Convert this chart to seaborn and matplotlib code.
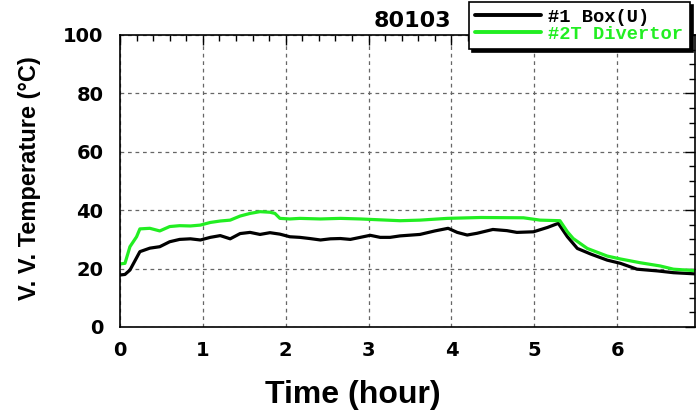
import matplotlib
matplotlib.use("Agg")
import matplotlib.pyplot as plt
import seaborn as sns
import pandas as pd
from matplotlib.ticker import MultipleLocator
from matplotlib.lines import Line2D

# ---- data ----
t_box = [0, 0.06, 0.12, 0.24, 0.36, 0.48, 0.6, 0.72, 0.85, 0.97, 1.09, 1.21, 1.33,
         1.45, 1.57, 1.69, 1.81, 1.93, 2.05, 2.17, 2.29, 2.42, 2.54, 2.66, 2.78,
         2.9, 3.02, 3.14, 3.26, 3.38, 3.62, 3.8, 3.96, 4.07, 4.19, 4.31, 4.5, 4.67,
         4.79, 4.99, 5.16, 5.29, 5.4, 5.52, 5.68, 5.88, 6.04, 6.24, 6.49, 6.68, 6.94]
box = [17.8, 18.0, 19.5, 25.8, 27.0, 27.5, 29.2, 30.0, 30.2, 29.8, 30.7, 31.3, 30.2,
       32.0, 32.4, 31.7, 32.3, 31.8, 30.9, 30.7, 30.3, 29.8, 30.2, 30.3, 30.0,
       30.7, 31.4, 30.7, 30.7, 31.2, 31.7, 32.9, 33.8, 32.4, 31.5, 32.1, 33.4, 33.0,
       32.4, 32.6, 34.1, 35.5, 30.9, 26.9, 25.0, 22.9, 21.8, 19.8, 19.2, 18.6, 18.2]
t_div = [0, 0.06, 0.12, 0.2, 0.24, 0.36, 0.48, 0.6, 0.72, 0.85, 0.97, 1.09, 1.21,
         1.33, 1.45, 1.57, 1.69, 1.81, 1.87, 1.93, 2.05, 2.17, 2.42, 2.66, 2.9, 3.14,
         3.38, 3.62, 3.95, 4.35, 4.87, 5.07, 5.31, 5.4, 5.47, 5.64, 5.88, 6.04, 6.28,
         6.52, 6.68, 6.94]
div = [21.6, 21.8, 27.5, 30.9, 33.6, 33.8, 32.9, 34.4, 34.7, 34.6, 34.9, 35.8, 36.3,
       36.6, 38.0, 38.9, 39.5, 39.3, 38.9, 37.2, 37.0, 37.2, 37.0, 37.2, 37.0, 36.7,
       36.4, 36.6, 37.2, 37.5, 37.4, 36.6, 36.4, 32.6, 30.3, 26.9, 24.3, 23.3, 22.0,
       20.9, 19.8, 19.3]
series_names = ["#1 Box(U)", "#2T Divertor"]
series_colors = ["#000000", "#22ee22"]
title_text = "80103"

df = pd.concat([
    pd.DataFrame({"Time": t_box, "Temp": box, "Series": series_names[0]}),
    pd.DataFrame({"Time": t_div, "Temp": div, "Series": series_names[1]}),
])

sns.set_style("white")
plt.rcParams["font.family"] = ["Liberation Sans", "DejaVu Sans"]
plt.rcParams["text.color"] = "black"
plt.rcParams["axes.labelcolor"] = "black"

fig = plt.figure(figsize=(6.96, 4.16), dpi=100)
ax = fig.add_axes([120 / 696, 1 - 327 / 416, 575 / 696, 292 / 416])

sns.lineplot(data=df, x="Time", y="Temp", hue="Series",
             palette=dict(zip(series_names, series_colors)),
             estimator=None, sort=False, linewidth=2.3, ax=ax, legend=False)

ax.set_xlim(0, 6.94)
ax.set_ylim(0, 100)
ax.xaxis.set_major_locator(MultipleLocator(1))
ax.xaxis.set_minor_locator(MultipleLocator(0.2))
ax.yaxis.set_major_locator(MultipleLocator(20))
ax.yaxis.set_minor_locator(MultipleLocator(5))
ax.tick_params(which="both", direction="in", top=True, right=True, colors="black",
               labelsize=14, width=1)
ax.tick_params(which="major", length=7)
ax.tick_params(axis="y", which="major", pad=12)
ax.tick_params(axis="x", which="major", pad=10)
ax.tick_params(which="minor", length=4)
for lab in ax.get_xticklabels() + ax.get_yticklabels():
    lab.set_fontweight("bold")
    lab.set_family(["DejaVu Sans"])
ax.grid(True, which="major", linestyle=(0, (3, 3)), color="#666666", linewidth=0.9)
for s in ax.spines.values():
    s.set_visible(True)
    s.set_color("black")
    s.set_linewidth(1.2)

ax.set_xlabel("Time (hour)", fontsize=23, fontweight="bold")
ax.xaxis.set_label_coords((353 - 120) / 575, -0.18)
ax.set_ylabel("V. V. Temperature (°C)", fontsize=17, fontweight="bold")
ax.yaxis.set_label_coords(-0.137, 0.51)

fig.text(451 / 696, 1 - 27 / 416, title_text, ha="right", va="baseline",
         fontsize=16, fontweight="bold", family=["DejaVu Sans"])

handles = [Line2D([], [], color=c, linewidth=2.8) for c in series_colors]
leg = fig.legend(handles, series_names, loc="upper right",
                 bbox_to_anchor=(690 / 696, 1 - 2 / 416), borderaxespad=0,
                 frameon=True, fancybox=False, shadow={"color": "black", "alpha": 1},
                 framealpha=1, edgecolor="black", handlelength=3.5, handletextpad=0.4,
                 labelspacing=0.0, borderpad=0.35,
                 prop={"family": ["Liberation Mono", "DejaVu Sans Mono"], "weight": "bold", "size": 13.5})
leg.get_frame().set_linewidth(1.2)
for txt, c in zip(leg.get_texts(), series_colors):
    txt.set_color(c)

fig.savefig("out.png", dpi=100)
